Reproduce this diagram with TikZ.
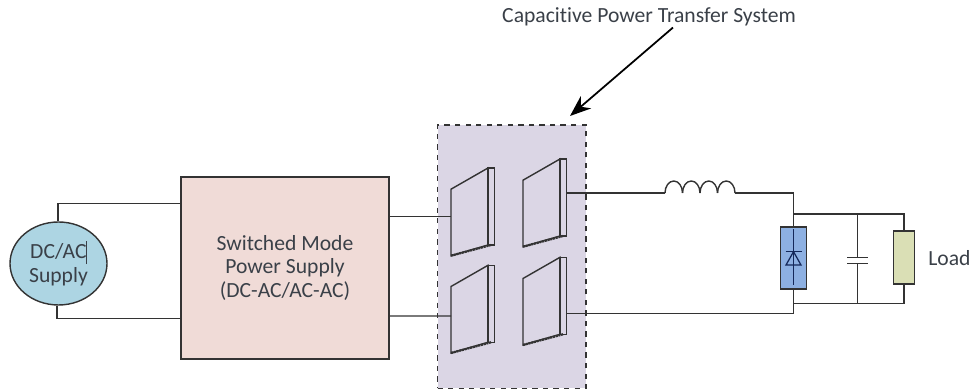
\documentclass[tikz,border=0pt]{standalone}
\usepackage{fontspec}
\setmainfont[Ligatures=NoCommon]{Carlito}
\usetikzlibrary{arrows.meta,shapes.geometric}
\definecolor{wirecol}{HTML}{333333}
\definecolor{textcol}{HTML}{3A4048}
\definecolor{supplycol}{HTML}{ADD5E3}
\definecolor{smpscol}{HTML}{F0DBD7}
\definecolor{cptcol}{HTML}{DBD6E5}
\definecolor{diodecol}{HTML}{8DB0E2}
\definecolor{loadcol}{HTML}{DADFB5}
\definecolor{symbcol}{HTML}{14285A}
\begin{document}
\begin{tikzpicture}[
        font=\fontsize{12.3}{13.4}\selectfont,
        wire/.style={draw=wirecol, line width=0.8pt},
        box/.style={draw=wirecol, line width=0.8pt, text=textcol, align=center, inner sep=0pt},
        plate/.style={draw=wirecol, line width=0.8pt},
        symb/.style={draw=symbcol, line width=0.7pt}
    ]
    \useasboundingbox (0,0) rectangle (19.4,7.8);

    % The Blocks
    \node[box, ellipse, fill=supplycol, minimum width=1.94cm, minimum height=1.66cm] (supply) at (1.17,2.53) {DC/AC\kern-.02em\rule[-0.25em]{0.4pt}{1.05em} \\ Supply};
    \node[box, fill=smpscol, minimum width=4.16cm, minimum height=3.64cm] (smps) at (5.70,2.44) {Switched Mode \\ Power Supply \\ (DC-AC/AC-AC)};
    \node[box, dashed, fill=cptcol, minimum width=2.97cm, minimum height=5.27cm] (cpt) at (10.235,2.665) {};

    % The Plates
    \foreach \n/\x/\y in {a/9.02/2.686, b/9.02/0.74, c/10.46/2.866, d/10.46/0.90} {
        \coordinate (plate\n) at (\x,\y);
        \draw[plate] (plate\n) -- ++(0,1.33) -- ++(0.74,0.424) -- ++(0,-1.54) -- cycle;
        \draw[plate] ([shift={(0.74,0.214)}]plate\n) rectangle ++(0.134,1.54);
        \draw[wirecol, line width=1.3pt, dash pattern=on 1.2pt off 0.4pt] (plate\n) -- ([shift={(0.8,0.214)}]plate\n);
    }

    % The Filter Parts
    \node[box, fill=diodecol, minimum width=0.53cm, minimum height=1.24cm] (diode) at (15.87,2.64) {};
    \node[box, fill=loadcol, minimum width=0.43cm, minimum height=1.06cm] (load) at (18.08,2.65) {};
    \node[text=textcol, anchor=west, inner sep=0pt] (loadtext) at (18.56,2.64) {Load};
    \node[text=textcol, inner sep=0pt] (title) at (12.98,7.46) {Capacitive Power Transfer System};

    % Diode symbol
    \draw[symb] (diode.north) ++(0,-0.06) -- ++(0,-1.12);
    \draw[symb] (15.72,2.50) -- ++(0.30,0) -- ++(-0.15,0.266) -- cycle;
    \draw[symb] (15.71,2.766) -- ++(0.33,0);

    % The Wiring
    \coordinate (ind) at (13.30,3.94);
    \coordinate (ind2) at (14.70,3.94);
    \coordinate (top) at (15.86,3.52);
    \coordinate (bot) at (15.86,1.735);
    \coordinate (capt) at (17.15,2.65);
    \coordinate (capb) at (17.15,2.53);

    \draw[wire] (supply.north) ++(-0.01,0) |- (smps.west |- 0,3.73);
    \draw[wire] (supply.south) ++(-0.03,0) |- (smps.west |- 0,1.43);
    \draw[wire] (smps.east |- 0,3.466) -- ([yshift=0.78cm]platea);
    \draw[wire] (smps.east |- 0,1.48) -- ([yshift=0.74cm]plateb);
    \draw[wire] ([shift={(0.88,1.074)}]platec) -- (ind);
    \foreach \i in {0,1,2,3} {
        \draw[wire] ([xshift=\i*0.35cm]ind) arc (180:0:0.175cm and 0.24cm);
    }
    \draw[wire] (ind2) -| (diode.north);
    \draw[wire] ([shift={(0.88,0.63)}]plated) -| (diode.south);
    \draw[wire] (top) -| (load.north);
    \draw[wire] (bot) -| (load.south);
    \draw[wire] (capt) -- (capt |- top);
    \draw[wire] (capb) -- (capb |- bot);
    \draw[wire] ([xshift=-0.21cm]capt) -- ++(0.42,0);
    \draw[wire] ([xshift=-0.21cm]capb) -- ++(0.42,0);

    % The Arrow
    \draw[-{Stealth[length=0.42cm,width=0.32cm]}, black, line width=1pt] (title.south) ++(0.48,-0.02) -- (11.40,5.48);
\end{tikzpicture}
\end{document}
